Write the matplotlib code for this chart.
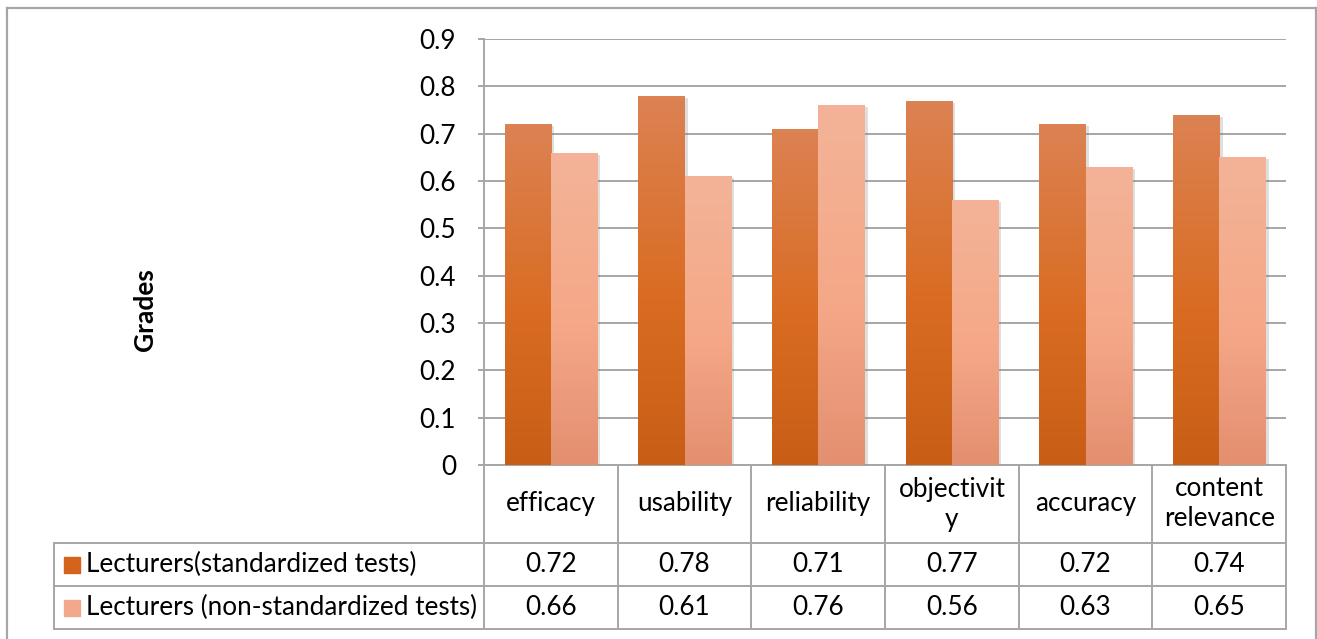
import numpy as np
import matplotlib
matplotlib.use("Agg")
import matplotlib.pyplot as plt
import matplotlib.patheffects as pe
from matplotlib.colors import LinearSegmentedColormap
from matplotlib.lines import Line2D
from matplotlib.patches import Rectangle
from matplotlib.transforms import blended_transform_factory

# data
categories = ["efficacy", "usability", "reliability", "objectivit\ny", "accuracy", "content\nrelevance"]
series_names = ["Lecturers(standardized tests)", "Lecturers (non-standardized tests)"]
standardized = [0.72, 0.78, 0.71, 0.77, 0.72, 0.74]
non_standardized = [0.66, 0.61, 0.76, 0.56, 0.63, 0.65]
yticks = [0, 0.1, 0.2, 0.3, 0.4, 0.5, 0.6, 0.7, 0.8, 0.9]
ytick_labels = ["0", "0.1", "0.2", "0.3", "0.4", "0.5", "0.6", "0.7", "0.8", "0.9"]

# colours (bottom, middle, top of the gradient)
dark_grad = ["#C85E16", "#D96C22", "#DC8253"]
light_grad = ["#E38F70", "#F5A887", "#F3B398"]
dark_solid = "#D4631D"
light_solid = "#F2A98B"
line_col = "#A6A6A6"
FS = 18.8

plt.rcParams['font.family'] = ['Lato', 'DejaVu Sans']

W, H = 1317, 639
fig = plt.figure(figsize=(W / 100, H / 100), dpi=100)

def fx(px):
    return px / W

def fy(py):
    return 1 - py / H

# plot area in pixels
L, R, T, B = 484, 1286, 39, 465
ax = fig.add_axes([fx(L), fy(B), fx(R) - fx(L), fy(T) - fy(B)])

x = np.arange(len(categories))
w = 0.345
shadow = [pe.SimplePatchShadow(offset=(2.5, -1.5), shadow_rgbFace="#808080", alpha=0.25), pe.Normal()]
bars1 = ax.bar(x - w / 2, standardized, w, color=dark_solid, zorder=3, path_effects=shadow)
bars2 = ax.bar(x + w / 2, non_standardized, w, color=light_solid, zorder=3, path_effects=shadow)


def fill_gradient(bars, cols):
    cmap = LinearSegmentedColormap.from_list("g", list(zip([0, 0.45, 1], cols)))
    grad = np.linspace(0, 1, 256).reshape(-1, 1)
    for b in bars:
        x0, y0 = b.get_x(), b.get_y()
        im = ax.imshow(grad, cmap=cmap, aspect="auto", origin="lower", zorder=3.5,
                       extent=[x0, x0 + b.get_width(), y0, y0 + b.get_height()])
        im.set_clip_path(b)


fill_gradient(bars1, dark_grad)
fill_gradient(bars2, light_grad)

ax.set_xlim(-0.5, len(categories) - 0.5)
ax.set_ylim(0, 0.9)
ax.set_yticks(yticks)
ax.set_yticklabels(ytick_labels, fontsize=FS)
ax.set_xticks([])
ax.yaxis.grid(True, color=line_col, lw=1.4, zorder=0)
ax.set_axisbelow(True)
ax.tick_params(axis="y", length=4, width=1.4, color=line_col, pad=16)
for s in ax.spines.values():
    s.set_visible(False)

# data table under the plot
trans = blended_transform_factory(ax.transData, ax.transAxes)

def dx(px):
    return -0.5 + (px - L) / (R - L) * len(categories)

def ay(py):
    return (B - py) / (B - T)

row_tops = [465, 543, 586, 629]
tab_left = dx(54)
tab_right = len(categories) - 0.5

def hline(x0, x1, py):
    ax.add_line(Line2D([x0, x1], [ay(py), ay(py)], transform=trans, color=line_col, lw=1.4, clip_on=False))

def vline(xv, py0, py1):
    ax.add_line(Line2D([xv, xv], [ay(py0), ay(py1)], transform=trans, color=line_col, lw=1.4, clip_on=False))

hline(-0.5, tab_right, 465)
for py in row_tops[1:]:
    hline(tab_left, tab_right, py)
vline(-0.5, T, 629)
for i in range(1, len(categories) + 1):
    vline(i - 0.5, 465, 629)
vline(tab_left, 543, 629)

for i, c in enumerate(categories):
    ax.text(i, ay(504), c, transform=trans, ha="center", va="center", fontsize=FS, linespacing=1.25)
    ax.text(i, ay(564.5), f"{standardized[i]:.2f}", transform=trans, ha="center", va="center", fontsize=FS)
    ax.text(i, ay(607.5), f"{non_standardized[i]:.2f}", transform=trans, ha="center", va="center", fontsize=FS)

for name, col, py in zip(series_names, [dark_solid, light_solid], [564.5, 607.5]):
    ax.add_patch(Rectangle((dx(64), ay(py + 8)), dx(80) - dx(64), 16 / (B - T),
                           transform=trans, color=col, clip_on=False))
    ax.text(dx(86), ay(py), name, transform=trans, ha="left", va="center", fontsize=FS)

fig.text(fx(145), fy(310), "Grades", rotation=90, weight="bold", ha="center", va="center", fontsize=19)

# outer chart border
for xs, ys in [([7, 7], [8, 639]), ([7, 1316], [8, 8]), ([1316, 1316], [8, 639])]:
    fig.add_artist(Line2D([fx(v) for v in xs], [fy(v) for v in ys], transform=fig.transFigure,
                          color=line_col, lw=1.6))

fig.savefig("out.png", dpi=100)
